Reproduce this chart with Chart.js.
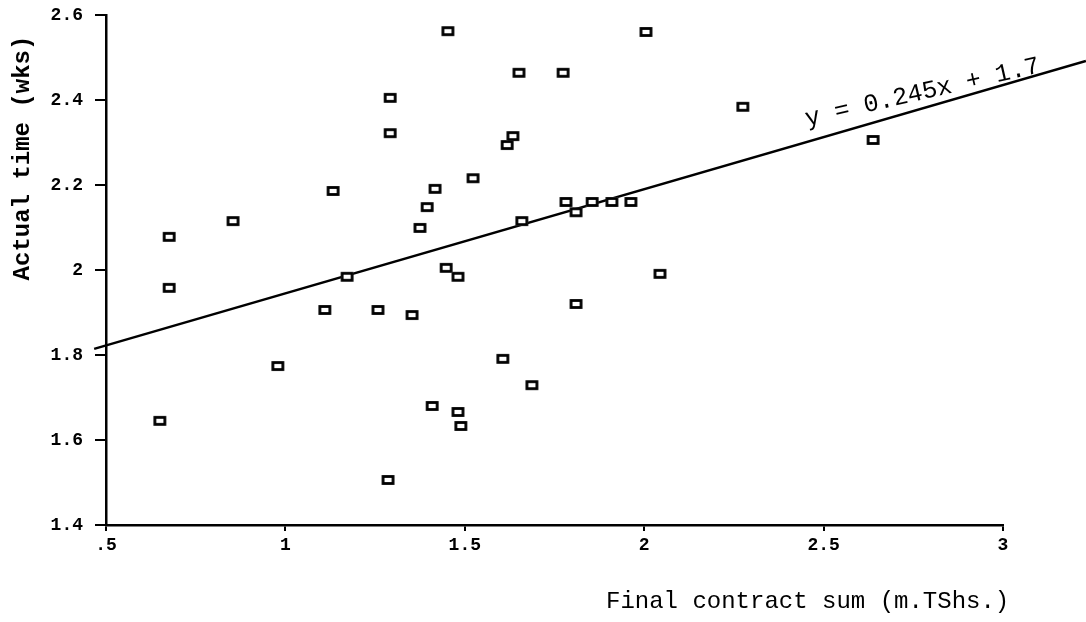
<!DOCTYPE html>
<html>
<head>
<meta charset="utf-8">
<script src="https://cdn.jsdelivr.net/npm/chart.js@4"></script>
<style>
html,body{margin:0;padding:0;background:#fff;}
#wrap{width:1086px;height:622px;position:relative;}
</style>
</head>
<body>
<div id="wrap"><canvas id="c" width="1086" height="622"></canvas></div>
<script>
// Final contract sum (m.TShs.)
const contractSum = [0.650,0.676,0.676,0.854,0.979,1.110,1.133,1.172,1.258,1.286,1.292,1.292,1.353,1.375,1.395,1.409,1.417,1.453,1.448,1.481,1.481,1.489,1.523,1.606,1.618,1.634,1.651,1.659,1.687,1.774,1.782,1.810,1.810,1.855,1.910,1.963,2.005,2.044,2.275,2.638];
// Actual time (wks)
const actualTime  = [1.645,1.958,2.078,2.115,1.774,1.906,2.186,1.984,1.906,1.506,2.405,2.322,1.894,2.099,2.148,1.680,2.191,2.562,2.005,1.984,1.666,1.633,2.216,1.791,2.294,2.315,2.464,2.115,1.729,2.464,2.160,2.136,1.920,2.160,2.160,2.160,2.560,1.991,2.384,2.306];
// Regression line y = 0.245x + 1.7
const slope = 0.245, intercept = 1.7;
const trendX = [0.467, 3.231];
const xTickLabels = ['.5','1','1.5','2','2.5','3'];
const yTickLabels = ['1.4','1.6','1.8','2','2.2','2.4','2.6'];
const equationText = 'y = 0.245x + 1.7';
const xTitle = 'Final contract sum (m.TShs.)';
const yTitle = 'Actual time (wks)';

// open square marker
const mk = document.createElement('canvas');
mk.width = 15; mk.height = 12;
(function(){const g=mk.getContext('2d');g.fillStyle='#fff';g.fillRect(1,1,13,10);g.strokeStyle='#000';g.lineWidth=2.8;g.strokeRect(2.5,2.5,10,7);})();

const scatterData = contractSum.map((x,i)=>({x:x,y:actualTime[i]}));
const trendData = trendX.map(x=>({x:x,y:slope*x+intercept}));

const textPlugin = {
  id:'texts',
  afterDraw(chart){
    const ctx = chart.ctx;
    ctx.save();
    ctx.fillStyle='#000';
    // y title
    ctx.save();
    ctx.translate(23,158);
    ctx.rotate(-Math.PI/2);
    ctx.font='bold 24px "Liberation Mono", "DejaVu Sans Mono", monospace';
    ctx.textAlign='center'; ctx.textBaseline='middle';
    ctx.fillText(yTitle,0,0);
    ctx.restore();
    // x title
    ctx.font='24px "Liberation Mono", "DejaVu Sans Mono", monospace';
    ctx.textAlign='left'; ctx.textBaseline='middle';
    ctx.fillText(xTitle,606,602);
    // equation
    ctx.save();
    ctx.translate(807,126);
    ctx.rotate(-13*Math.PI/180);
    ctx.font='25px "Liberation Mono", "DejaVu Sans Mono", monospace';
    ctx.textAlign='left'; ctx.textBaseline='alphabetic';
    ctx.fillText(equationText,0,0);
    ctx.restore();
    ctx.restore();
  }
};

new Chart(document.getElementById('c'),{
  data:{
    datasets:[
      {type:'scatter',data:scatterData,pointStyle:mk,pointRadius:7,pointHoverRadius:7,order:1},
      {type:'line',data:trendData,borderColor:'#000',borderWidth:2.5,pointRadius:0,fill:false,clip:false,order:2}
    ]
  },
  options:{
    responsive:false,
    animation:false,
    events:[],
    layout:{padding:{top:15,right:83,left:0,bottom:0}},
    plugins:{legend:{display:false},tooltip:{enabled:false},title:{display:false}},
    scales:{
      x:{
        type:'linear',min:0.5,max:3,
        afterBuildTicks(s){s.ticks=[0.5,1,1.5,2,2.5,3].map(v=>({value:v}));},
        afterFit(s){s.height=97;s.paddingLeft=0;s.paddingRight=0;},
        border:{display:true,color:'#000',width:2.5},
        grid:{drawOnChartArea:false,drawTicks:true,tickLength:6,color:'#000',lineWidth:2},
        ticks:{color:'#000',padding:4,maxRotation:0,font:{family:'"Liberation Mono", monospace',weight:'bold',size:18},
          callback:(v,i)=>xTickLabels[i]}
      },
      y:{
        type:'linear',min:1.4,max:2.6,
        afterBuildTicks(s){s.ticks=[1.4,1.6,1.8,2,2.2,2.4,2.6].map(v=>({value:v}));},
        afterFit(s){s.width=106;s.paddingTop=0;s.paddingBottom=0;},
        border:{display:true,color:'#000',width:2.5},
        grid:{drawOnChartArea:false,drawTicks:true,tickLength:11,color:'#000',lineWidth:2},
        ticks:{color:'#000',padding:12,font:{family:'"Liberation Mono", monospace',weight:'bold',size:18},
          callback:(v,i)=>yTickLabels[i]}
      }
    }
  },
  plugins:[textPlugin]
});
</script>
</body>
</html>
